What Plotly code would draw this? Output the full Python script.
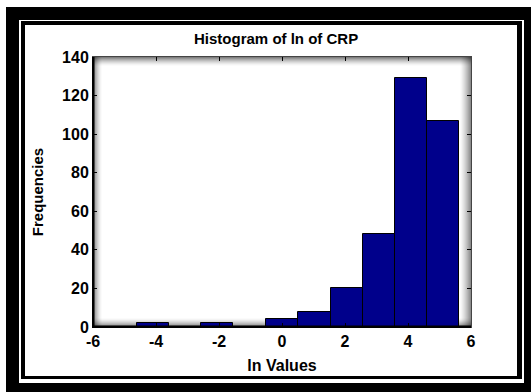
import plotly.graph_objects as go

# Histogram of ln(CRP): bin edges and counts per bin
bin_edges = [-4.61, -3.59, -2.56, -1.54, -0.51, 0.51, 1.54, 2.56, 3.59, 4.61, 5.63]
counts = [2, 0, 2, 0, 4, 8, 20, 48, 129, 107]
x_ticks = [-6, -4, -2, 0, 2, 4, 6]
y_ticks = [0, 20, 40, 60, 80, 100, 120, 140]

W, H = 531, 392
L, R, T, B = 93, 471, 57, 327  # plot area in pixels

centers = [(a + b) / 2 for a, b in zip(bin_edges[:-1], bin_edges[1:])]
widths = [b - a for a, b in zip(bin_edges[:-1], bin_edges[1:])]

fig = go.Figure()
fig.add_trace(go.Bar(
    x=centers, y=counts, width=widths,
    marker=dict(color="#00008b", line=dict(color="#000000", width=1)),
    showlegend=False,
))


def px(x):
    return (x - L) / (R - L)


def py(y):
    return (B - y) / (B - T)


shapes = []


def prect(x0, y0, x1, y1, color, layer="below"):
    shapes.append(dict(type="rect", xref="paper", yref="paper",
                       x0=px(x0), x1=px(x1), y0=py(y1), y1=py(y0),
                       fillcolor=color, line=dict(width=0), layer=layer))


# double frame around the figure
prect(6, 7, W + 10, H + 10, "#000000")
prect(19, 20, 524, 383, "#ffffff")
prect(21, 21, 522, 379, "#000000")
prect(25, 25, 517, 376, "#ffffff")
prect(L, T, R, B, "#ffffff")

# inner shadow along the edges of the plot area
n = 9
for d in range(n):
    a = 0.5 * (1 - d / n) ** 1.6
    c = f"rgba(0,0,0,{a:.3f})"
    prect(L + d, T, L + d + 1, B, c)          # left
    prect(L, T + d, R, T + d + 1, c)          # top
    prect(L, B - d - 1, R, B - d, c)          # bottom
for d in range(11):
    a = 0.45 * (1 - d / 11) ** 1.4
    c = f"rgba(0,0,0,{a:.3f})"
    prect(R - d - 1, T, R - d, B, c)          # right

# heavier left and bottom axis lines
prect(L - 1, T, L + 1.5, B + 1, "#000000", layer="above")
prect(L - 1, B - 1.5, R, B + 1, "#000000", layer="above")

fig.update_layout(shapes=shapes)

font = dict(family="Liberation Sans, Arial, sans-serif", size=16, color="#000000")

fig.update_layout(
    width=W, height=H,
    margin=dict(l=L, r=W - R, t=T, b=H - B, pad=0),
    paper_bgcolor="#ffffff", plot_bgcolor="#ffffff",
    bargap=0,
    font=font,
    title=dict(text="<b>Histogram of ln of CRP</b>", x=0.52, xanchor="center",
               y=1 - 39 / H, yanchor="middle", yref="container",
               font=dict(family=font["family"], size=15)),
    xaxis=dict(
        range=[-6, 6], tickvals=x_ticks, ticktext=[f"<b>{v}</b>" for v in x_ticks],
        ticks="inside", ticklen=4, tickwidth=1, tickcolor="#000000",
        showline=True, linecolor="#444444", linewidth=1, mirror="ticks",
        showgrid=False, zeroline=False,
        tickfont=dict(size=16),
        title=dict(text="<b>ln Values</b>", font=dict(size=16), standoff=10),
    ),
    yaxis=dict(
        range=[0, 140], tickvals=y_ticks, ticktext=[f"<b>{v}</b>" for v in y_ticks],
        ticks="inside", ticklen=4, tickwidth=1, tickcolor="#000000",
        showline=True, linecolor="#444444", linewidth=1, mirror="ticks",
        showgrid=False, zeroline=False,
        tickfont=dict(size=16),
        title=dict(text="<b>Frequencies</b>", font=dict(size=15), standoff=14),
    ),
)

fig.write_html("out.html")
